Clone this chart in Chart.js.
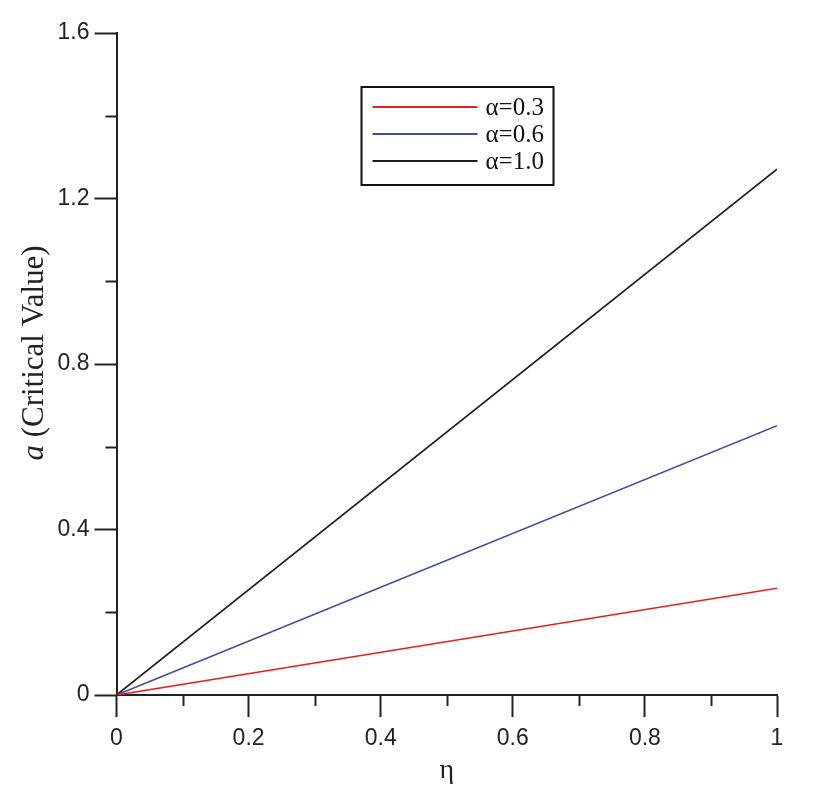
<!DOCTYPE html>
<html>
<head>
<meta charset="utf-8">
<script src="https://cdn.jsdelivr.net/npm/chart.js@4"></script>
<style>
  html, body { margin: 0; padding: 0; background: #fff; }
  #wrap { width: 827px; height: 793px; }
</style>
</head>
<body>
<div id="wrap"><canvas id="myChart" width="827" height="793"></canvas></div>
<script>
// values (lines are straight, so end points are enough)
const etaValues = [0, 1];
const alpha03 = [0, 0.258];
const alpha06 = [0, 0.651];
const alpha10 = [0, 1.271];
const seriesLabels = ['α=0.3', 'α=0.6', 'α=1.0'];
const seriesColors = ['#e3221f', '#3b4f9c', '#1c1c1c'];
const xTickLabels = ['0', '0.2', '0.4', '0.6', '0.8', '1'];
const yTickLabels = ['0', '0.4', '0.8', '1.2', '1.6'];

const axisColor = '#222';

function toPoints(ys) {
    return etaValues.map((x, i) => ({ x: x, y: ys[i] }));
}

function isMajor(value, step) {
    const k = Math.round(value / step * 1000) / 1000;
    return Math.abs(k - Math.round(k)) < 1e-6;
}

// short minor ticks, y title with italic "a", and the boxed legend
const extras = {
    id: 'extras',
    afterDraw(chart) {
        const c = chart.ctx;
        const area = chart.chartArea;
        const xs = chart.scales.x, ys = chart.scales.y;
        c.save();
        c.strokeStyle = axisColor;
        c.lineWidth = 2;
        xs.ticks.forEach(t => {
            if (isMajor(t.value, 0.2)) return;
            const px = Math.round(xs.getPixelForValue(t.value)) + 0.5;
            c.beginPath();
            c.moveTo(px, area.bottom);
            c.lineTo(px, area.bottom + 11);
            c.stroke();
        });
        ys.ticks.forEach(t => {
            if (isMajor(t.value, 0.4)) return;
            const py = Math.round(ys.getPixelForValue(t.value)) + 0.5;
            c.beginPath();
            c.moveTo(area.left, py);
            c.lineTo(area.left - 11, py);
            c.stroke();
        });

        // y axis title
        c.translate(35, (area.top + area.bottom) / 2 - 11);
        c.rotate(-Math.PI / 2);
        c.fillStyle = axisColor;
        c.textBaseline = 'middle';
        const fItal = 'italic 31px "Liberation Serif"';
        const fNorm = '31px "Liberation Serif"';
        c.font = fItal;
        const w1 = c.measureText('a').width;
        c.font = fNorm;
        const rest = ' (Critical Value)';
        const w2 = c.measureText(rest).width;
        const x0 = -(w1 + w2) / 2;
        c.font = fItal;
        c.textAlign = 'left';
        c.fillText('a', x0, 0);
        c.font = fNorm;
        c.fillText(rest, x0 + w1, 0);
        c.restore();

        // legend box
        c.save();
        const bx = area.left + 245, by = area.top + 54, bw = 192, bh = 98;
        c.strokeStyle = '#111';
        c.lineWidth = 2;
        c.strokeRect(bx, by, bw, bh);
        c.font = '25px "Liberation Serif"';
        c.textBaseline = 'middle';
        c.fillStyle = '#111';
        chart.data.datasets.forEach((ds, i) => {
            const ly = by + 20 + i * 27;
            c.strokeStyle = ds.borderColor;
            c.lineWidth = 2;
            c.beginPath();
            c.moveTo(bx + 11, ly);
            c.lineTo(bx + 116, ly);
            c.stroke();
            c.fillText(ds.label, bx + 124, ly + 1);
        });
        c.restore();
    }
};

const ctx = document.getElementById('myChart').getContext('2d');

const chart = new Chart(ctx, {
    type: 'line',
    data: {
        datasets: [alpha03, alpha06, alpha10].map((ys, i) => ({
            label: seriesLabels[i],
            data: toPoints(ys),
            borderColor: seriesColors[i],
            backgroundColor: seriesColors[i],
            borderWidth: 1.6,
            pointRadius: 0,
            fill: false,
            tension: 0
        }))
    },
    options: {
        responsive: false,
        animation: false,
        layout: { padding: { left: 0, right: 50, top: 33, bottom: 0 } },
        plugins: {
            legend: { display: false },
            tooltip: { enabled: false }
        },
        scales: {
            x: {
                type: 'linear',
                min: 0,
                max: 1,
                afterFit(scale) { scale.height = 98; },
                border: { display: true, color: axisColor, width: 2 },
                grid: {
                    drawOnChartArea: false,
                    drawTicks: true,
                    tickLength: 22,
                    tickWidth: 2,
                    tickColor: c => (c.tick && isMajor(c.tick.value, 0.2)) ? axisColor : 'rgba(0,0,0,0)'
                },
                ticks: {
                    stepSize: 0.1,
                    autoSkip: false,
                    maxRotation: 0,
                    padding: 8,
                    color: axisColor,
                    font: { family: '"Liberation Sans"', size: 23 },
                    callback: v => isMajor(v, 0.2) ? xTickLabels[Math.round(v / 0.2)] : ''
                },
                title: {
                    display: true,
                    text: 'η',
                    color: axisColor,
                    font: { family: '"Liberation Serif"', size: 28 },
                    padding: { top: 0, bottom: 6 }
                }
            },
            y: {
                min: 0,
                max: 1.6,
                afterFit(scale) { scale.width = 116.5; },
                border: { display: true, color: axisColor, width: 2 },
                grid: {
                    drawOnChartArea: false,
                    drawTicks: true,
                    tickLength: 22,
                    tickWidth: 2,
                    tickColor: c => (c.tick && isMajor(c.tick.value, 0.4)) ? axisColor : 'rgba(0,0,0,0)'
                },
                ticks: {
                    stepSize: 0.2,
                    autoSkip: false,
                    padding: 5,
                    color: axisColor,
                    font: { family: '"Liberation Sans"', size: 23 },
                    callback: v => isMajor(v, 0.4) ? yTickLabels[Math.round(v / 0.4)] : ''
                }
            }
        }
    },
    plugins: [extras]
});
</script>
</body>
</html>
